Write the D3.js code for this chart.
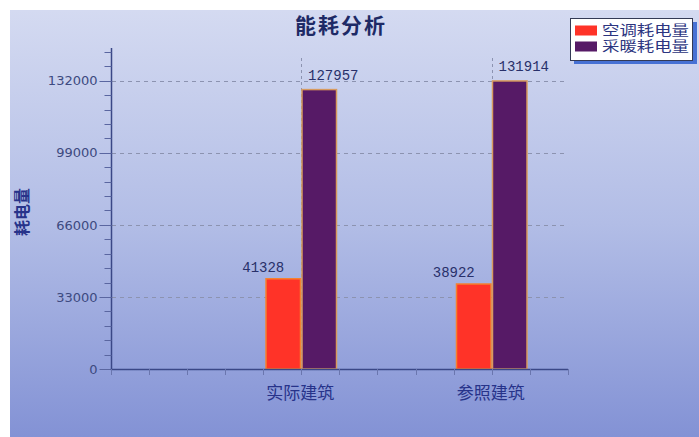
<!DOCTYPE html>
<html><head><meta charset="utf-8">
<script src="https://cdn.jsdelivr.net/npm/d3@7/dist/d3.min.js"></script>
<style>html,body{margin:0;padding:0;background:#fff;}svg{display:block;}</style>
</head><body>
<script>
const title = "能耗分析";
const yLabel = "耗电量";
const categories = ["实际建筑", "参照建筑"];
const seriesNames = ["空调耗电量", "采暖耗电量"];
const acValues = [41328, 38922];
const heatValues = [127957, 131914];
const yTicks = [0, 33000, 66000, 99000, 132000];
const seriesColors = ["#ff3328", "#561a66"];
const seriesBorders = ["#f5812f", "#d89a5e"];

const W = 699, H = 437;
const svg = d3.select("body").append("svg").attr("width", W).attr("height", H);
const defs = svg.append("defs");
const bg = defs.append("linearGradient").attr("id","bg").attr("x1",0).attr("y1",0).attr("x2",0).attr("y2",1);
bg.append("stop").attr("offset","0").attr("stop-color","#d4daf1");
bg.append("stop").attr("offset","0.5").attr("stop-color","#b2bde6");
bg.append("stop").attr("offset","1").attr("stop-color","#8392d5");
svg.append("rect").attr("x",10).attr("y",10).attr("width",W-10).attr("height",H-10).attr("fill","url(#bg)");

const y = d3.scaleLinear().domain([0, 147000]).range([369, 48]);
const x = d3.scaleBand().domain(categories).range([206, 587]).paddingInner(0).paddingOuter(0);
const step = x.step();
const xLeft = x(categories[0]) - step/2;
const xRight = x(categories[1]) + step*0.9;
const bw = 36;

// horizontal gridlines
svg.append("g").selectAll("line").data(yTicks.filter(d=>d>0)).join("line")
  .attr("x1", 112).attr("x2", xRight).attr("y1", d=>Math.round(y(d))+0.5).attr("y2", d=>Math.round(y(d))+0.5)
  .attr("stroke","#8c93b0").attr("stroke-width",1).attr("stroke-dasharray","4,4");
// vertical gridlines at category centers
svg.append("g").selectAll("line").data(categories).join("line")
  .attr("x1", d=>Math.round(x(d)+step/2)+0.5).attr("x2", d=>Math.round(x(d)+step/2)+0.5)
  .attr("y1", 58).attr("y2", 369)
  .attr("stroke","#8c93b0").attr("stroke-width",1).attr("stroke-dasharray","3,3");

// bars
const seriesData = [acValues, heatValues];
seriesData.forEach((vals, si) => {
  svg.append("g").selectAll("rect").data(vals).join("rect")
    .attr("x", (d,i)=> x(categories[i]) + step/2 + (si===0 ? -bw : 0) + 0.75)
    .attr("y", d=>y(d))
    .attr("width", bw - 1.5)
    .attr("height", d=>y(0)-y(d))
    .attr("fill", seriesColors[si])
    .attr("stroke", seriesBorders[si]).attr("stroke-width",1.5);
  svg.append("g").selectAll("text").data(vals).join("text")
    .attr("x", (d,i)=> x(categories[i]) + step/2 + (si===0 ? -bw - 2 : bw/2 + 14))
    .attr("y", d=>y(d) - (si===0 ? 7 : 10))
    .attr("text-anchor","middle")
    .attr("font-family","'Liberation Mono', monospace").attr("font-size",14)
    .attr("fill","#28306a")
    .text(d=>d);
});

// y axis
const yAxisG = svg.append("g").attr("transform","translate(111.5,0)");
yAxisG.append("line").attr("x1",0).attr("x2",0).attr("y1",48).attr("y2",369.5).attr("stroke","#3a4786").attr("stroke-width",1.5);
const minor = d3.range(0, 147001, 6600);
yAxisG.selectAll("line.mn").data(minor).join("line").attr("class","mn")
  .attr("x1",-7).attr("x2",0).attr("y1",d=>Math.round(y(d))+0.5).attr("y2",d=>Math.round(y(d))+0.5)
  .attr("stroke","#5a66a0").attr("stroke-width",1);
yAxisG.selectAll("line.mj").data(yTicks).join("line").attr("class","mj")
  .attr("x1",-12).attr("x2",0).attr("y1",d=>Math.round(y(d))+0.5).attr("y2",d=>Math.round(y(d))+0.5)
  .attr("stroke","#5a66a0").attr("stroke-width",1);
yAxisG.selectAll("text").data(yTicks).join("text")
  .attr("x",-14).attr("y",d=>y(d)).attr("dy","0.36em")
  .attr("text-anchor","end").attr("font-family","'DejaVu Sans', sans-serif").attr("font-size",13)
  .attr("fill","#3d4a80").text(d=>d);

// x axis
const xAxisG = svg.append("g");
xAxisG.append("line").attr("x1",xLeft).attr("x2",xRight).attr("y1",369.5).attr("y2",369.5).attr("stroke","#3a4786").attr("stroke-width",1.5);
const xTickPos = d3.range(0, 13).map(k => xLeft + k*step/5).filter(p => p <= xRight + 1);
xAxisG.selectAll("line.t").data(xTickPos).join("line").attr("class","t")
  .attr("x1",d=>Math.round(d)+0.5).attr("x2",d=>Math.round(d)+0.5).attr("y1",369).attr("y2",375)
  .attr("stroke","#6a76ae").attr("stroke-width",1);
xAxisG.selectAll("text").data(categories).join("text")
  .attr("x", d=>x(d)+step/2 - 1).attr("y", 399)
  .attr("text-anchor","middle").attr("font-family","'Noto Sans CJK SC', sans-serif").attr("font-size",17)
  .attr("fill","#27338a").text(d=>d);

// y label
svg.append("text").attr("transform","translate(28,212) rotate(-90)")
  .attr("text-anchor","middle").attr("font-family","'Noto Sans CJK SC', sans-serif").attr("font-size",16)
  .attr("font-weight","bold").attr("fill","#27338a").text(yLabel);

// title
svg.append("text").attr("x",341).attr("y",33).attr("text-anchor","middle")
  .attr("font-family","'Noto Sans CJK SC', sans-serif").attr("font-size",21).attr("font-weight","bold")
  .attr("letter-spacing",2).attr("fill","#1e2a66").text(title);

// legend
const lg = svg.append("g");
lg.append("rect").attr("x",574).attr("y",22).attr("width",123).attr("height",42).attr("fill","#2f5fcf").attr("opacity",0.85);
lg.append("rect").attr("x",570.5).attr("y",18.5).attr("width",122).attr("height",42).attr("fill","#fff").attr("stroke","#333a55").attr("stroke-width",1);
lg.selectAll("rect.sw").data(seriesNames).join("rect").attr("class","sw")
  .attr("x",575).attr("y",(d,i)=>25.5 + i*16).attr("width",22).attr("height",10)
  .attr("fill",(d,i)=>seriesColors[i]);
lg.selectAll("text").data(seriesNames).join("text")
  .attr("x",602).attr("y",(d,i)=>30.5 + i*16).attr("dy","0.36em")
  .attr("font-family","'DejaVu Sans', 'Noto Sans CJK SC', sans-serif").attr("font-size",13.5).attr("textLength",87).attr("lengthAdjust","spacingAndGlyphs")
  .attr("fill","#2c3580").text(d=>d);
</script>
</body></html>
